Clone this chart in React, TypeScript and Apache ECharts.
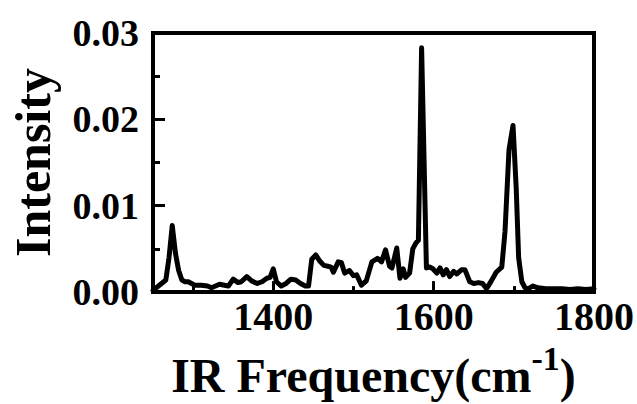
import React, { useEffect, useRef } from "react";
import * as echarts from "echarts";

const frequency: number[] = [
  1250, 1258, 1266, 1270, 1274, 1278, 1282, 1286, 1290, 1294, 1298, 1302, 1310, 1318, 1323, 1328,
  1333, 1339, 1344, 1350, 1356, 1360, 1367, 1373, 1380, 1386, 1392, 1396, 1400, 1404, 1410, 1416,
  1422, 1428, 1434, 1440, 1444, 1448, 1453, 1458, 1463, 1468, 1472, 1475, 1481, 1485, 1489, 1495,
  1500, 1504, 1510, 1516, 1523, 1530, 1535, 1540, 1545, 1548, 1554, 1558, 1562, 1565, 1570, 1574,
  1578, 1581, 1585, 1591, 1595, 1599, 1604, 1608, 1612, 1616, 1620, 1625, 1629, 1635, 1639, 1645,
  1650, 1656, 1661, 1666, 1672, 1678, 1685, 1689, 1694, 1699, 1703, 1706, 1710, 1714, 1718, 1724,
  1730, 1740, 1750, 1760, 1770, 1780, 1790, 1800,
];

const intensity: number[] = [
  0.0002, 0.0008, 0.0014, 0.004, 0.0077, 0.0045, 0.0025, 0.0014, 0.0012, 0.0012, 0.001, 0.0008, 0.0008, 0.0007, 0.0005, 0.0007,
  0.0009, 0.0008, 0.0007, 0.0015, 0.0011, 0.0012, 0.0018, 0.0013, 0.001, 0.0012, 0.0016, 0.0017, 0.0027, 0.0012, 0.0007, 0.001,
  0.0015, 0.0014, 0.001, 0.0007, 0.0007, 0.0038, 0.0043, 0.0036, 0.0031, 0.003, 0.0029, 0.0023, 0.0035, 0.0034, 0.0022, 0.0025,
  0.0019, 0.002, 0.0008, 0.0013, 0.0035, 0.0039, 0.0035, 0.0049, 0.003, 0.0028, 0.0051, 0.0016, 0.0027, 0.0017, 0.0022, 0.005,
  0.0057, 0.006, 0.0283, 0.0028, 0.0029, 0.0027, 0.0022, 0.0028, 0.002, 0.0026, 0.0018, 0.0024, 0.0021, 0.0026, 0.0026, 0.0012,
  0.001, 0.0011, 0.001, 0.0004, 0.0013, 0.0023, 0.0029, 0.007, 0.0165, 0.0193, 0.012, 0.004, 0.0012, 0.0005, 0.0004, 0.0007,
  0.0005, 0.0004, 0.0004, 0.0004, 0.0003, 0.0004, 0.0003, 0.0004,
];

const xMajorTicks: number[] = [1400, 1600, 1800];
const xMinorTicks: number[] = [1300, 1500, 1700];

const FONT = "Liberation Serif";

export default function App() {
  const ref = useRef<HTMLDivElement>(null);

  useEffect(() => {
    if (!ref.current) return;
    const chart = echarts.init(ref.current, undefined, { renderer: "svg" });
    const data = frequency.map((f, i) => [f, intensity[i]]);
    const baseX = {
      type: "value" as const,
      min: 1250,
      max: 1800,
      position: "bottom" as const,
      splitLine: { show: false },
      axisLine: { show: true, lineStyle: { color: "#000", width: 4 } },
    };
    chart.setOption({
      animation: false,
      backgroundColor: "#fff",
      grid: {
        left: 153,
        right: 43,
        top: 33,
        bottom: 110,
        show: true,
        borderColor: "#000",
        borderWidth: 4,
      },
      xAxis: [
        {
          ...baseX,
          name: "{main|IR Frequency(cm}{sup|-1}{main|)}",
          nameLocation: "middle",
          nameGap: 41,
          nameTextStyle: {
            fontFamily: FONT,
            fontWeight: "bold",
            fontSize: 48,
            color: "#000",
            rich: {
              main: {
                fontFamily: FONT,
                fontWeight: "bold",
                fontSize: 48,
                color: "#000",
                verticalAlign: "bottom",
              },
              sup: {
                fontFamily: FONT,
                fontWeight: "bold",
                fontSize: 34,
                color: "#000",
                verticalAlign: "bottom",
                padding: [0, 0, 24, 0],
              },
            },
          },
          axisTick: {
            show: true,
            inside: true,
            length: 11,
            customValues: xMajorTicks,
            lineStyle: { color: "#000", width: 3 },
          },
          axisLabel: {
            show: true,
            customValues: xMajorTicks,
            margin: 4,
            fontFamily: FONT,
            fontWeight: "bold",
            fontSize: 40,
            color: "#000",
            formatter: (v: number) => String(v),
          },
        },
        {
          ...baseX,
          axisTick: {
            show: true,
            inside: true,
            length: 6,
            customValues: xMinorTicks,
            lineStyle: { color: "#000", width: 3 },
          },
          axisLabel: { show: false },
        },
      ],
      yAxis: {
        type: "value",
        min: 0,
        max: 0.03,
        interval: 0.01,
        name: "Intensity",
        nameLocation: "middle",
        nameGap: 95,
        nameTextStyle: {
          fontFamily: FONT,
          fontWeight: "bold",
          fontSize: 50,
          color: "#000",
        },
        splitLine: { show: false },
        axisLine: { show: true, lineStyle: { color: "#000", width: 4 } },
        axisTick: {
          show: true,
          inside: true,
          length: 12,
          lineStyle: { color: "#000", width: 3 },
        },
        minorTick: {
          show: true,
          splitNumber: 2,
          length: 7,
          lineStyle: { color: "#000", width: 3 },
        },
        axisLabel: {
          margin: 14,
          fontFamily: FONT,
          fontWeight: "bold",
          fontSize: 38,
          color: "#000",
          formatter: (v: number) => v.toFixed(2),
        },
      },
      series: [
        {
          type: "line",
          data,
          showSymbol: false,
          symbol: "none",
          lineStyle: { color: "#000", width: 5, cap: "round", join: "round" },
        },
      ],
    });
    return () => chart.dispose();
  }, []);

  return (
    <div
      ref={ref}
      style={{ position: "fixed", left: 0, top: 0, width: 637, height: 404 }}
    />
  );
}
